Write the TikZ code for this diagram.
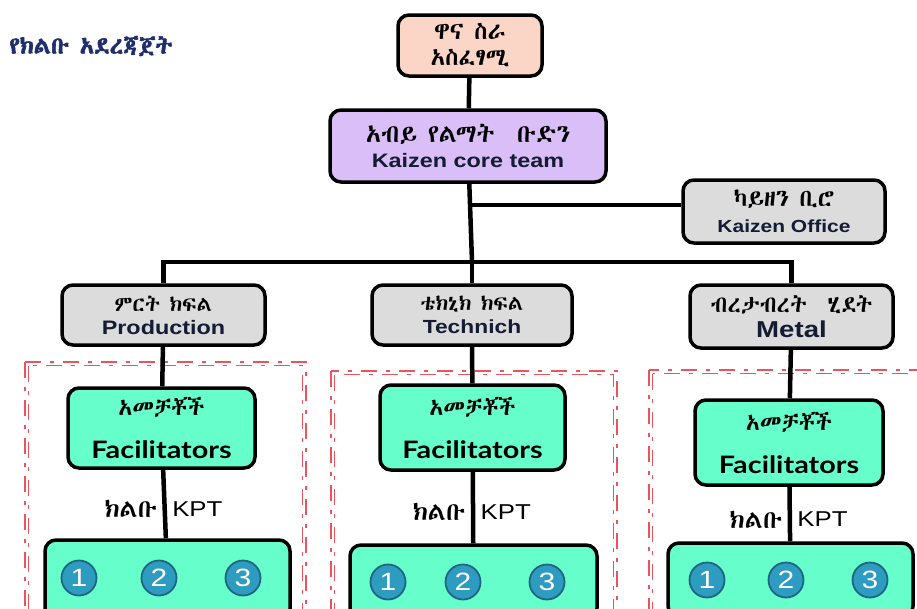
\documentclass[tikz,border=0pt]{standalone}
\usepackage{fontspec}
\setmainfont{Liberation Sans}[FakeStretch=1.2]
\IfFontExistsTF{Abyssinica SIL}{\newfontfamily\ethfont{Abyssinica SIL}[AutoFakeBold=2.5]}{%
  \IfFontExistsTF{FreeSerif}{\newfontfamily\ethfont{FreeSerif}}{\newfontfamily\ethfont{DejaVu Sans}}}
\newfontfamily\gillfont{Lato}[FakeStretch=1.2]
\usetikzlibrary{positioning}

\definecolor{ceofill}{HTML}{FBD6C6}
\definecolor{corefill}{HTML}{D9BEF7}
\definecolor{deptfill}{HTML}{DCDCDC}
\definecolor{mintfill}{HTML}{66FFCC}
\definecolor{titleblue}{HTML}{1F2F6B}
\definecolor{dotblue}{HTML}{2E9CC0}
\definecolor{clubred}{HTML}{E9545E}
\definecolor{inkblue}{HTML}{141B33}

\tikzset{
  orgbox/.style={draw=black, line width=3.5pt, rounded corners=11pt, align=center, inner sep=2pt},
  link/.style={line width=4.5pt},
  clubdash/.style={draw=clubred, line width=1.3pt, dash pattern=on 16pt off 9pt on 4pt off 9pt},
  member/.style={circle, fill=dotblue, draw=dotblue!65!black, line width=1.8pt, minimum size=35pt,
    inner sep=0pt, text=white, font=\fontsize{25}{25}\selectfont},
}

\begin{document}
\begin{tikzpicture}[x=1pt,y=-1pt]
\useasboundingbox (0,0) rectangle (917,608);
\clip (0,0) rectangle (917,608);

% club frames
\draw[clubdash] (25,362) rectangle (306,640);
\draw[clubdash] (28.5,365.5) rectangle (302.5,640);
\draw[clubdash] (331,371) rectangle (617,640);
\draw[clubdash] (334.5,374.5) rectangle (613.5,640);
\draw[clubdash] (649,370) rectangle (935,640);
\draw[clubdash] (652.5,373.5) rectangle (931.5,640);

% title
\node[anchor=west, text=titleblue, font=\ethfont\bfseries\fontsize{23.5}{26}\selectfont] (title) at (6,46) {የክልቡ አደረጃጀት};

% boxes
\node[orgbox, fill=ceofill, minimum width=144pt, minimum height=61pt, font=\ethfont\fontsize{24}{26}\selectfont] (ceo) at (470,45.5) {ዋና ስራ\\አስፈፃሚ};
\node[orgbox, fill=corefill, minimum width=276pt, minimum height=72pt, font=\fontsize{20}{25}\selectfont] (core) at (468,146)
  {{\ethfont\fontsize{25}{25}\selectfont አብይ የልማት~~ቡድን}\\{\bfseries\fontsize{19.5}{20}\selectfont\color{inkblue} Kaizen core team}};
\node[orgbox, fill=deptfill, minimum width=202pt, minimum height=63pt, font=\fontsize{18}{26}\selectfont] (office) at (784,211.5)
  {{\ethfont\fontsize{24}{24}\selectfont ካይዘን ቢሮ}\\{\bfseries\fontsize{17.5}{18}\selectfont\color{inkblue} Kaizen Office}};

\node[orgbox, fill=deptfill, minimum width=203pt, minimum height=60pt, font=\fontsize{18}{23}\selectfont] (prod) at (163.5,315)
  {{\ethfont\fontsize{21}{21}\selectfont ምርት ክፍል}\\{\bfseries\fontsize{19.5}{20}\selectfont\color{inkblue} Production}};
\node[orgbox, fill=deptfill, minimum width=200pt, minimum height=60pt, font=\fontsize{18}{23}\selectfont] (tech) at (472,315)
  {{\ethfont\fontsize{21}{21}\selectfont ቴክኒክ ክፍል}\\{\bfseries\fontsize{19}{20}\selectfont\color{inkblue} Technich}};
\node[orgbox, fill=deptfill, minimum width=203pt, minimum height=63pt, font=\fontsize{20}{25}\selectfont] (metal) at (791.5,316.5)
  {{\ethfont\fontsize{23}{23}\selectfont ብረታብረት~~ሂደት}\\{\bfseries\fontsize{23}{23}\selectfont\color{inkblue} Metal}};

\node[orgbox, fill=mintfill, minimum width=187pt, minimum height=80pt, font=\fontsize{20}{43}\selectfont] (facL) at (161.5,428)
  {{\ethfont\fontsize{23}{23}\selectfont አመቻቾች}\\{\gillfont\bfseries\fontsize{24}{24}\selectfont Facilitators}};
\node[orgbox, fill=mintfill, minimum width=185pt, minimum height=85pt, font=\fontsize{20}{43}\selectfont] (facM) at (472.5,427.5)
  {{\ethfont\fontsize{23}{23}\selectfont አመቻቾች}\\{\gillfont\bfseries\fontsize{24}{24}\selectfont Facilitators}};
\node[orgbox, fill=mintfill, minimum width=188pt, minimum height=85pt, font=\fontsize{20}{43}\selectfont] (facR) at (789,442.5)
  {{\ethfont\fontsize{23}{23}\selectfont አመቻቾች}\\{\gillfont\bfseries\fontsize{24}{24}\selectfont Facilitators}};

\node[orgbox, fill=mintfill, minimum width=245pt, minimum height=80pt] (kptL) at (167.5,580) {};
\node[orgbox, fill=mintfill, minimum width=247pt, minimum height=74pt] (kptM) at (473.5,582) {};
\node[orgbox, fill=mintfill, minimum width=245pt, minimum height=74pt] (kptR) at (790.5,580) {};

% members
\foreach \n/\x in {1/79,2/159,3/243} \node[member] (mL\n) at (\x,578) {\n};
\foreach \n/\x in {1/388,2/463,3/547} \node[member] (mM\n) at (\x,582) {\n};
\foreach \n/\x in {1/707,2/786,3/870} \node[member] (mR\n) at (\x,580) {\n};

% connectors
\coordinate (bus) at (472,262);
\coordinate (branch) at (472,205);
\draw[link] (ceo) -- (core);
\draw[link] (core) -- (bus);
\draw[link] (branch) -- (branch -| office.west);
\draw[link] (prod) |- (bus) -| (metal);
\draw[link] (bus) -- (tech);
\draw[link] (prod) -- (facL);
\draw[link] (tech) -- (facM);
\draw[link] (metal) -- (facR);
\draw[link] (facL) -- (kptL)
  node[pos=0.57, left=2pt, font=\ethfont\fontsize{25}{26}\selectfont] (clubL) {ክልቡ}
  node[pos=0.57, right=2pt, font=\fontsize{21.5}{22}\selectfont] (kptLabelL) {KPT};
\draw[link] (facM) -- (kptM)
  node[pos=0.56, left=2pt, font=\ethfont\fontsize{25}{26}\selectfont] (clubM) {ክልቡ}
  node[pos=0.56, right=2pt, font=\fontsize{21.5}{22}\selectfont] (kptLabelM) {KPT};
\draw[link] (facR) -- (kptR)
  node[pos=0.6, left=2pt, font=\ethfont\fontsize{25}{26}\selectfont] (clubR) {ክልቡ}
  node[pos=0.6, right=2pt, font=\fontsize{21.5}{22}\selectfont] (kptLabelR) {KPT};

\end{tikzpicture}
\end{document}
